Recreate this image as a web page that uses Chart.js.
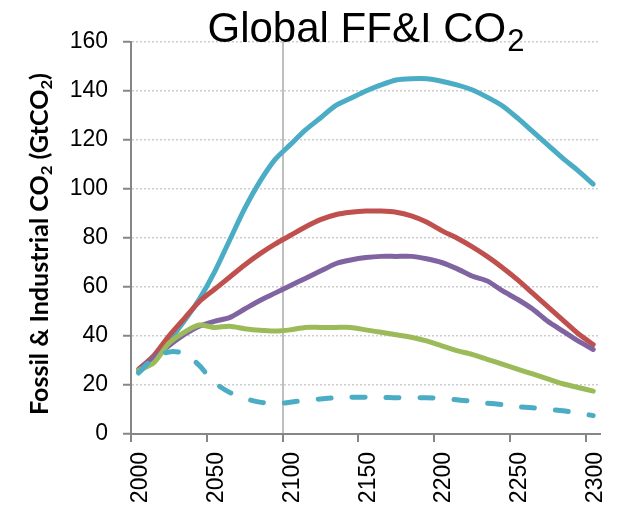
<!DOCTYPE html>
<html lang="en">
    <head>
        <meta charset="UTF-8" />
        <title>Global FF&amp;I CO2</title>
        <script src="https://cdn.jsdelivr.net/npm/chart.js"></script>
        <style>
            html,
            body {
                margin: 0;
                padding: 0;
                background: #fff;
            }
            canvas {
                display: block;
            }
        </style>
    </head>
    <body>
        <canvas id="co2Chart" width="618" height="506"></canvas>
        <script>
            // years of the model steps
            const years = [
                2005, 2015, 2025, 2035, 2045, 2055, 2065, 2075, 2085, 2095,
                2105, 2115, 2125, 2135, 2145, 2155, 2165, 2175, 2185, 2195,
                2205, 2215, 2225, 2235, 2245, 2255, 2265, 2275, 2285, 2295,
                2305,
            ];
            const xTicks = [2000, 2050, 2100, 2150, 2200, 2250, 2300];
            const yTicks = [0, 20, 40, 60, 80, 100, 120, 140, 160];

            // emissions, GtCO2
            const cyanSeries = [
                25, 31, 38, 46, 55, 66, 79, 92, 103, 112, 118, 124, 129, 134,
                137, 140, 142.5, 144.5, 145, 145, 144, 142.5, 140.5, 137.5,
                134, 129, 123.5, 118, 112.5, 107.5, 102,
            ];
            const redSeries = [
                26.5, 32, 40, 47, 54, 59, 64, 69, 73.5, 77.5, 81, 84.5, 87.5,
                89.5, 90.5, 91, 91, 90.5, 89, 86.5, 83, 80, 76.5, 72.5, 68,
                63, 57.5, 52, 46.5, 41, 36.5,
            ];
            const purpleSeries = [
                26, 31, 36, 40.5, 44, 46, 47.5, 51, 54.5, 57.5, 60.5, 63.5,
                66.5, 69.5, 71, 72, 72.5, 72.5, 72.5, 71.5, 70, 67.5, 64.5,
                62.5, 58.5, 55, 51, 46, 42, 38, 34.5,
            ];
            const greenSeries = [
                26, 29, 37, 41.5, 44.5, 43.5, 44, 43, 42.3, 42, 42.5, 43.5,
                43.5, 43.5, 43.5, 42.5, 41.5, 40.5, 39.5, 38, 36, 34, 32.5,
                30.5, 28.5, 26.5, 24.5, 22.5, 20.5, 19, 17.5,
            ];
            const cyanDashedSeries = [
                25, 31, 33.5, 33, 28, 21, 17, 14.5, 13, 12.3, 13, 13.8, 14.3,
                14.8, 15, 15, 15, 14.8, 14.8, 14.8, 14.5, 14, 13.3, 12.6, 12,
                11.2, 10.7, 10.1, 9.5, 8.6, 7.5,
            ];

            const FONT = "'Liberation Sans', Arial, sans-serif";
            const AXIS_GREY = "#868686";

            const toPoints = (values) =>
                values.map((v, i) => ({ x: years[i], y: v }));

            const lineSet = (values, color, order, dash) => ({
                data: toPoints(values),
                borderColor: color,
                backgroundColor: color,
                borderWidth: 5,
                borderDash: dash || [],
                borderCapStyle: "round",
                borderJoinStyle: "round",
                pointRadius: 0,
                tension: 0.25,
                fill: false,
                order: order,
            });

            // title and y axis title, both with subscript 2
            const titlesPlugin = {
                id: "titles",
                afterDraw(chart) {
                    const ctx = chart.ctx;
                    const area = chart.chartArea;
                    ctx.save();
                    ctx.fillStyle = "#000";
                    ctx.textBaseline = "alphabetic";
                    ctx.textAlign = "left";

                    // chart title
                    const mainFont = "42px " + FONT;
                    const subFont = "31px " + FONT;
                    ctx.font = mainFont;
                    const w1 = ctx.measureText("Global FF&I CO").width;
                    ctx.font = subFont;
                    const w2 = ctx.measureText("2").width;
                    let x = (area.left + area.right) / 2 - (w1 + w2) / 2;
                    ctx.font = mainFont;
                    ctx.fillText("Global FF&I CO", x, 41.5);
                    ctx.font = subFont;
                    ctx.fillText("2", x + w1 + 1, 50.5);

                    // y axis title, rotated, squeezed to the length in the original
                    const parts = [
                        ["Fossil & Industrial CO", false],
                        ["2", true],
                        [" (GtCO", false],
                        ["2", true],
                        [")", false],
                    ];
                    const size = 24;
                    const fontFor = (sub) =>
                        "bold " + (sub ? 16 : size) + "px Lato, " + FONT;
                    let total = 0;
                    parts.forEach(([t, sub]) => {
                        ctx.font = fontFor(sub);
                        total += ctx.measureText(t).width;
                    });
                    ctx.translate(48, 415);
                    ctx.rotate(-Math.PI / 2);
                    ctx.scale(342 / total, 1);
                    let pos = 0;
                    parts.forEach(([t, sub]) => {
                        ctx.font = fontFor(sub);
                        ctx.fillText(t, pos, sub ? 4 : 0);
                        pos += ctx.measureText(t).width;
                    });
                    ctx.restore();
                },
            };

            new Chart(document.getElementById("co2Chart"), {
                type: "line",
                data: {
                    datasets: [
                        lineSet(cyanDashedSeries, "#4BACC6", 0, [13, 21]),
                        lineSet(greenSeries, "#9BBB59", 1),
                        lineSet(purpleSeries, "#8064A2", 2),
                        lineSet(redSeries, "#C0504D", 3),
                        lineSet(cyanSeries, "#4BACC6", 4),
                    ],
                },
                options: {
                    responsive: false,
                    animation: false,
                    devicePixelRatio: 1,
                    layout: {
                        padding: { top: 42, right: 18, left: 0, bottom: 0 },
                    },
                    plugins: {
                        legend: { display: false },
                        tooltip: { enabled: false },
                    },
                    scales: {
                        x: {
                            type: "linear",
                            min: 2000,
                            max: 2309.5,
                            afterBuildTicks: (scale) => {
                                scale.ticks = xTicks.map((v) => ({ value: v }));
                            },
                            afterFit: (scale) => {
                                scale.height = 72;
                                scale.paddingLeft = 0;
                                scale.paddingRight = 0;
                            },
                            ticks: {
                                autoSkip: false,
                                minRotation: 90,
                                maxRotation: 90,
                                padding: 10,
                                labelOffset: 10,
                                color: "#000",
                                font: { family: FONT, size: 23 },
                                callback: (v) => String(v),
                            },
                            grid: {
                                color: (c) =>
                                    c.tick && c.tick.value === 2100
                                        ? "#bfbfbf"
                                        : "rgba(0,0,0,0)",
                                lineWidth: 2,
                                tickColor: AXIS_GREY,
                                tickLength: 8,
                                tickWidth: 2,
                            },
                            border: { color: AXIS_GREY, width: 2 },
                        },
                        y: {
                            min: 0,
                            max: 160,
                            afterBuildTicks: (scale) => {
                                scale.ticks = yTicks.map((v) => ({ value: v }));
                            },
                            afterFit: (scale) => {
                                scale.width = 131;
                                scale.paddingTop = 0;
                                scale.paddingBottom = 0;
                            },
                            ticks: {
                                padding: 15,
                                color: "#000",
                                font: { family: FONT, size: 23 },
                            },
                            grid: {
                                color: "#cdcdcd",
                                lineWidth: 1.5,
                                tickColor: AXIS_GREY,
                                tickLength: 8,
                                tickWidth: 2,
                                tickBorderDash: [],
                            },
                            border: {
                                color: AXIS_GREY,
                                width: 2,
                                dash: [2, 2],
                            },
                        },
                    },
                },
                plugins: [titlesPlugin],
            });
        </script>
    </body>
</html>
